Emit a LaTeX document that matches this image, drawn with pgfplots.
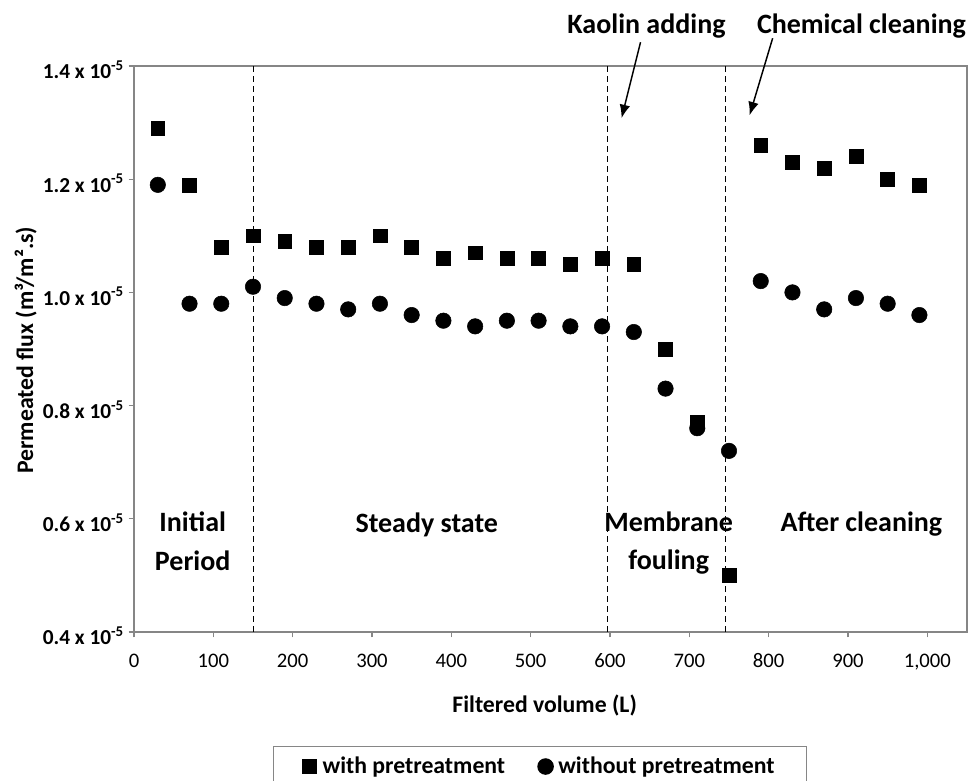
\documentclass[border=0pt]{standalone}
\usepackage{fontspec}
\setmainfont{Carlito}
\usepackage{pgfplots}
\pgfplotsset{compat=1.18}
\usetikzlibrary{arrows.meta}
\definecolor{framegray}{HTML}{868686}

\begin{document}
\begin{tikzpicture}
\useasboundingbox (-100.5pt,-111.75pt) rectangle (627.75pt,474pt);
\begin{axis}[
    scale only axis, width=624.75pt, height=424.5pt,
    xmin=0, xmax=1050, ymin=0.4, ymax=1.4,
    clip=false,
    axis line style={framegray, line width=1pt},
    tick align=outside, major tick length=4pt,
    tick style={framegray, line width=0.8pt},
    xtick pos=bottom, ytick pos=left,
    xtick={0,100,200,300,400,500,600,700,800,900,1000},
    xticklabels={0,100,200,300,400,500,600,700,800,900,{1,000}},
    ytick={0.4,0.6,0.8,1.0,1.2,1.4},
    yticklabels={0.4 x 10\textsuperscript{-5},0.6 x 10\textsuperscript{-5},0.8 x 10\textsuperscript{-5},1.0 x 10\textsuperscript{-5},1.2 x 10\textsuperscript{-5},1.4 x 10\textsuperscript{-5}},
    xticklabel style={font=\fontsize{15.5}{18}\selectfont, text height=11pt, text depth=3pt, yshift=-8pt},
    yticklabel style={font=\bfseries\fontsize{16}{19}\selectfont, yshift=-3pt},
    xlabel={Filtered volume (L)},
    xlabel style={font=\bfseries\fontsize{17.8}{21}\selectfont, at={(axis description cs:0.493,-0.1307)}, anchor=center},
    ylabel={Permeated flux (m³/m².s)},
    ylabel style={font=\bfseries\fontsize{17.8}{21}\selectfont, at={(axis description cs:-0.13,0.498)}, anchor=center},
    legend columns=2,
    legend cell align=left,
    legend image code/.code={\draw[#1] plot coordinates {(5pt,0pt)}; \path[draw=none,fill=none] (0pt,0pt) rectangle (12.5pt,0.1pt);},
    legend style={at={(axis description cs:0.167,-0.2014)}, anchor=north west,
        draw=framegray, line width=0.8pt,
        font=\bfseries\fontsize{17.8}{21}\selectfont,
        inner xsep=22pt, inner ysep=6pt,
        /tikz/every even column/.append style={column sep=22.5pt}},
]
\addplot[only marks, mark=square*, mark size=5.2pt, black]
    coordinates {(30,1.29)(70,1.19)(110,1.08)(150,1.10)(190,1.09)(230,1.08)(270,1.08)(310,1.10)(350,1.08)(390,1.06)(430,1.07)(470,1.06)(510,1.06)(550,1.05)(590,1.06)(630,1.05)(670,0.90)(710,0.77)(750,0.50)(790,1.26)(830,1.23)(870,1.22)(910,1.24)(950,1.20)(990,1.19)};
\addlegendentry{with pretreatment}
\addplot[only marks, mark=*, mark size=5.8pt, black]
    coordinates {(30,1.19)(70,0.98)(110,0.98)(150,1.01)(190,0.99)(230,0.98)(270,0.97)(310,0.98)(350,0.96)(390,0.95)(430,0.94)(470,0.95)(510,0.95)(550,0.94)(590,0.94)(630,0.93)(670,0.83)(710,0.76)(750,0.72)(790,1.02)(830,1.00)(870,0.97)(910,0.99)(950,0.98)(990,0.96)};
\addlegendentry{without pretreatment}

% phase boundaries
\addplot[black, line width=0.9pt, dash pattern=on 4.5pt off 3pt, forget plot] coordinates {(151,0.4)(151,1.4)};
\addplot[black, line width=0.9pt, dash pattern=on 4.5pt off 3pt, forget plot] coordinates {(597,0.4)(597,1.4)};
\addplot[black, line width=0.9pt, dash pattern=on 4.5pt off 3pt, forget plot] coordinates {(746,0.4)(746,1.4)};

% phase names
\begin{scope}[font=\bfseries\fontsize{21}{25}\selectfont]
\node[anchor=base] at (axis cs:74,0.577) {Initial};
\node[anchor=base] at (axis cs:74,0.508) {Period};
\node[anchor=base] at (axis cs:369,0.575) {Steady state};
\node[anchor=base] at (axis cs:674,0.577) {Membrane};
\node[anchor=base] at (axis cs:674,0.510) {fouling};
\node[anchor=base] at (axis cs:917,0.577) {After cleaning};
\node[anchor=base] at (axis cs:646,1.457) {Kaolin adding};
\node[anchor=base] at (axis cs:917,1.458) {Chemical cleaning};
\end{scope}
\draw[line width=1.1pt, -{Latex[length=10pt,width=8pt]}] (axis cs:638.5,1.442) -- (axis cs:614.6,1.308);
\draw[line width=1.1pt, -{Latex[length=10pt,width=8pt]}] (axis cs:805,1.449) -- (axis cs:776,1.313);
\end{axis}
\end{tikzpicture}
\end{document}
